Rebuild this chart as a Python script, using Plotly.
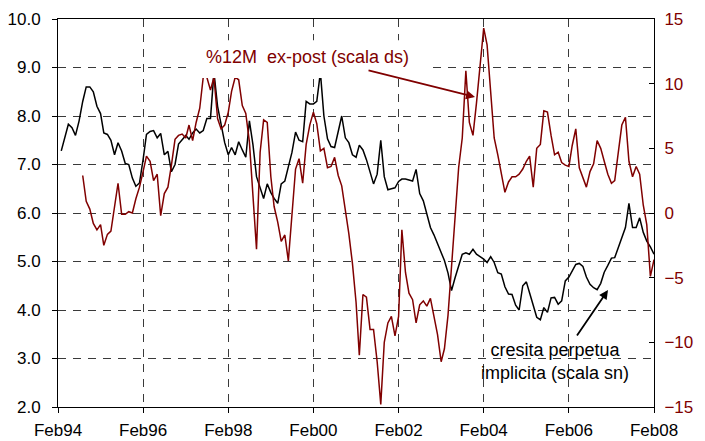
import pandas as pd
import plotly.graph_objects as go

# ---------------- data ----------------
# monthly values; black series starts Mar 1994, red series starts Sep 1994
black_start = "1994-03-01"
black_values = [
    7.28, 7.55, 7.83, 7.76, 7.60, 7.90, 8.30, 8.60, 8.60, 8.50, 8.20, 8.05,   # Mar94-Feb95
    7.65, 7.62, 7.50, 7.20, 7.45, 7.28, 7.02, 7.00, 6.72, 6.55, 6.62, 7.10,   # Mar95-Feb96
    7.62, 7.68, 7.70, 7.55, 7.64, 7.20, 7.27, 6.85, 7.00, 7.42, 7.50, 7.60,   # Mar96-Feb97
    7.52, 7.65, 7.73, 7.65, 7.70, 7.95, 7.95, 8.90, 8.20, 7.80, 7.45, 7.20,   # Mar97-Feb98
    7.35, 7.20, 7.47, 7.30, 7.15, 7.90, 7.40, 6.75, 6.50, 6.30, 6.60, 6.42,   # Mar98-Feb99
    6.30, 6.20, 6.60, 6.66, 6.95, 7.25, 7.67, 7.50, 7.47, 8.30, 8.25, 8.25,   # Mar99-Feb00
    8.30, 8.90, 8.00, 7.53, 7.37, 7.35, 7.68, 8.00, 7.55, 7.45, 7.20, 7.15,   # Mar00-Feb01
    7.40, 7.30, 7.10, 6.85, 6.60, 6.80, 7.50, 6.75, 6.48, 6.50, 6.52, 6.65,   # Mar01-Feb02
    6.70, 6.70, 6.68, 6.66, 6.90, 6.40, 6.25, 6.00, 5.70, 5.55, 5.38, 5.18,   # Mar02-Feb03
    5.02, 4.76, 4.40, 4.67, 4.90, 5.15, 5.18, 5.15, 5.25, 5.15, 5.10, 5.05,   # Mar03-Feb04
    4.98, 5.10, 4.98, 4.77, 4.74, 4.48, 4.33, 4.32, 4.10, 4.00, 4.50, 4.58,   # Mar04-Feb05
    4.35, 4.12, 3.85, 3.80, 4.05, 3.95, 4.25, 4.26, 4.12, 4.19, 4.60, 4.68,   # Mar05-Feb06
    4.82, 4.94, 4.96, 4.90, 4.68, 4.53, 4.46, 4.42, 4.55, 4.78, 4.92, 5.07,   # Mar06-Feb07
    5.08, 5.29, 5.50, 5.70, 6.20, 5.70, 5.70, 5.90, 5.60, 5.42, 5.30, 5.15,   # Mar07-Feb08
]

red_start = "1994-09-01"
red_values = [
    2.9, 0.9, 0.3, -0.8, -1.3, -0.9,                                          # Sep94-Feb95
    -2.5, -1.65, -1.4, 0.5, 2.3, -0.1, -0.1, 0.1, 0.0, 1.1, 2.0, 3.2,         # Mar95-Feb96
    4.4, 4.0, 2.5, 3.0, -0.2, 1.5, 2.0, 3.7, 5.7, 6.0, 6.1, 5.8,              # Mar96-Feb97
    6.8, 5.6, 7.0, 8.1, 10.5, 10.5, 9.5, 10.5, 7.3, 6.5, 6.8, 7.8,            # Mar97-Feb98
    9.4, 10.5, 10.3, 8.3, 7.7, 5.5, 1.1, -2.8, 4.7, 7.2, 7.0, 2.8,            # Mar98-Feb99
    0.5, -0.7, -2.2, -1.7, -3.7, -0.3, 3.4, 4.2, 2.3, 5.3, 6.8, 7.8,          # Mar99-Feb00
    6.9, 4.8, 5.0, 3.5, 3.6, 4.3, 2.9, 2.1, 0.2, -1.6, -3.9, -6.9,            # Mar00-Feb01
    -11.0, -6.3, -6.5, -9.0, -9.0, -11.5, -14.8, -10.0, -8.5, -8.0, -9.5, -8.0,  # Mar01-Feb02
    -1.3, -4.6, -6.2, -6.7, -8.5, -7.1, -6.8, -7.2, -6.6, -8.0, -9.4, -11.5,  # Mar02-Feb03
    -10.5, -7.9, -4.3, -0.2, 3.5, 5.8, 11.0, 7.0, 6.0, 8.5, 11.7, 14.3,       # Mar03-Feb04
    13.0, 9.3, 5.8, 4.5, 3.0, 1.6, 2.4, 2.8, 2.8, 3.0, 3.4, 4.0,              # Mar04-Feb05
    4.4, 2.0, 5.0, 5.3, 7.9, 7.8, 6.0, 4.5, 4.7, 3.9, 3.7, 3.6,               # Mar05-Feb06
    5.2, 6.5, 3.5, 2.7, 2.0, 3.2, 3.8, 5.6, 5.0, 4.0, 3.0, 2.3,               # Mar06-Feb07
    2.5, 4.7, 6.8, 7.4, 4.0, 2.8, 3.6, 3.0, 0.6, -0.9, -4.9, -3.6,            # Mar07-Feb08
]

tick_dates = ["1994-02-01", "1996-02-01", "1998-02-01", "2000-02-01",
              "2002-02-01", "2004-02-01", "2006-02-01", "2008-02-01"]
tick_labels = ["Feb94", "Feb96", "Feb98", "Feb00", "Feb02", "Feb04", "Feb06", "Feb08"]
left_ticks = [2, 3, 4, 5, 6, 7, 8, 9, 10]
left_tick_labels = ["2.0", "3.0", "4.0", "5.0", "6.0", "7.0", "8.0", "9.0", "10.0"]
right_ticks = [-15, -10, -5, 0, 5, 10, 15]

red_label = "%12M  ex-post (scala ds)"
black_label = "cresita perpetua<br>implicita (scala sn)"

# ---------------- figure ----------------
RED = "#800000"
FONT = "Liberation Sans, Arial, sans-serif"

black_dates = pd.date_range(black_start, periods=len(black_values), freq="MS")
red_dates = pd.date_range(red_start, periods=len(red_values), freq="MS")

fig = go.Figure()
fig.add_trace(go.Scatter(x=black_dates, y=black_values, mode="lines",
                         line=dict(color="black", width=1.5), yaxis="y",
                         showlegend=False))
fig.add_trace(go.Scatter(x=red_dates, y=red_values, mode="lines",
                         line=dict(color=RED, width=1.5), yaxis="y2",
                         showlegend=False))

grid_dash = "8px,7px"
# the page body adds an 8px offset, so the figure is 8px smaller each way
fig.update_layout(
    width=697, height=433,
    margin=dict(l=50, r=51, t=11, b=34, autoexpand=False),
    paper_bgcolor="white", plot_bgcolor="white",
    font=dict(family=FONT, size=17, color="black"),
    xaxis=dict(
        type="date", range=["1994-02-01", "2008-02-01"],
        tickvals=tick_dates, ticktext=tick_labels,
        showgrid=True, gridcolor="#3a3a3a", gridwidth=1, griddash=grid_dash,
        showline=True, linecolor="black", linewidth=1, mirror=True,
        ticks="outside", ticklen=5, tickcolor="black",
        tickfont=dict(size=17, color="black"), ticklabelstandoff=3,
        zeroline=False, automargin=False,
    ),
    yaxis=dict(
        range=[2, 10], tickvals=left_ticks, ticktext=left_tick_labels,
        showgrid=True, gridcolor="#3a3a3a", gridwidth=1, griddash=grid_dash,
        showline=True, linecolor="black", linewidth=1,
        ticks="outside", ticklen=5, tickcolor="black",
        tickfont=dict(size=17, color="black"), ticklabelstandoff=8,
        zeroline=False, automargin=False,
    ),
    yaxis2=dict(
        range=[-15, 15], tickvals=right_ticks,
        overlaying="y", side="right", showgrid=False,
        showline=True, linecolor="black", linewidth=1,
        ticks="inside", ticklen=5, tickcolor="black",
        tickfont=dict(size=17, color=RED), ticklabelstandoff=6,
        zeroline=False, automargin=False,
    ),
    shapes=[
        dict(type="rect", xref="paper", yref="paper",
             x0=0.218, x1=0.621, y0=0.848, y1=0.945,
             fillcolor="white", line=dict(width=0), layer="above"),
    ],
    annotations=[
        dict(text=red_label, xref="paper", yref="paper", x=0.4186, y=0.902,
             xanchor="center", yanchor="middle",
             showarrow=False, font=dict(size=18, color=RED, family=FONT)),
        dict(text="", xref="paper", yref="paper", x=0.6997, y=0.799,
             ax=-108, ay=-27, showarrow=True, arrowhead=2, arrowsize=1,
             arrowwidth=1.8, arrowcolor=RED, standoff=0),
        dict(text=black_label, xref="paper", yref="paper", x=0.834, y=0.116,
             xanchor="center", yanchor="middle",
             showarrow=False, align="center",
             font=dict(size=18, color="black", family=FONT)),
        dict(text="", xref="paper", yref="paper", x=0.9228, y=0.3015,
             ax=-32, ay=47, showarrow=True, arrowhead=2, arrowsize=1,
             arrowwidth=1.8, arrowcolor="black", standoff=0),
    ],
)

fig.write_html("out.html")
